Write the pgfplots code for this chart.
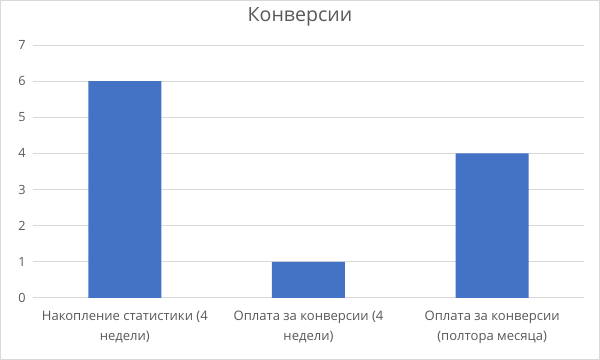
\documentclass[border=0pt]{standalone}
\usepackage{pgfplots}
\pgfplotsset{compat=1.18}
\usepackage{fontspec}
\setmainfont{Open Sans}
\definecolor{barblue}{HTML}{4472C4}
\definecolor{gridgray}{HTML}{D9D9D9}
\definecolor{txtgray}{HTML}{595959}
\begin{document}
\begin{tikzpicture}
\draw[gridgray, line width=0.75pt, fill=white] (0.375pt,0.375pt) rectangle (449.625pt,269.625pt);
\node[txtgray, font=\fontsize{14.7}{17}\selectfont] at (225pt,257pt) {Конверсии};
\begin{axis}[
  at={(24.75pt,46.5pt)}, anchor=south west,
  scale only axis, width=413.25pt, height=189.75pt,
  xmin=-0.5, xmax=2.5, ymin=0, ymax=7,
  axis line style={draw=none},
  xtick={0,1,2},
  xticklabels={{Накопление статистики (4\\недели)},{Оплата за конверсии (4\\недели)},{Оплата за конверсии\\(полтора месяца)}},
  xticklabel style={align=center, font=\fontsize{9.8}{15.2}\selectfont, text=txtgray, yshift=-6pt},
  ytick={0,1,...,7},
  yticklabel style={font=\fontsize{9.5}{11}\selectfont, text=txtgray, xshift=-2pt},
  /pgf/number format/assume math mode=true,
  major tick length=0pt,
  ymajorgrids, grid style={gridgray, line width=0.75pt},
  axis on top=false,
]
\addplot[ybar, bar width=54.75pt, fill=barblue, draw=none] coordinates {(0,6) (1,1) (2,4)};
\end{axis}
\end{tikzpicture}
\end{document}
